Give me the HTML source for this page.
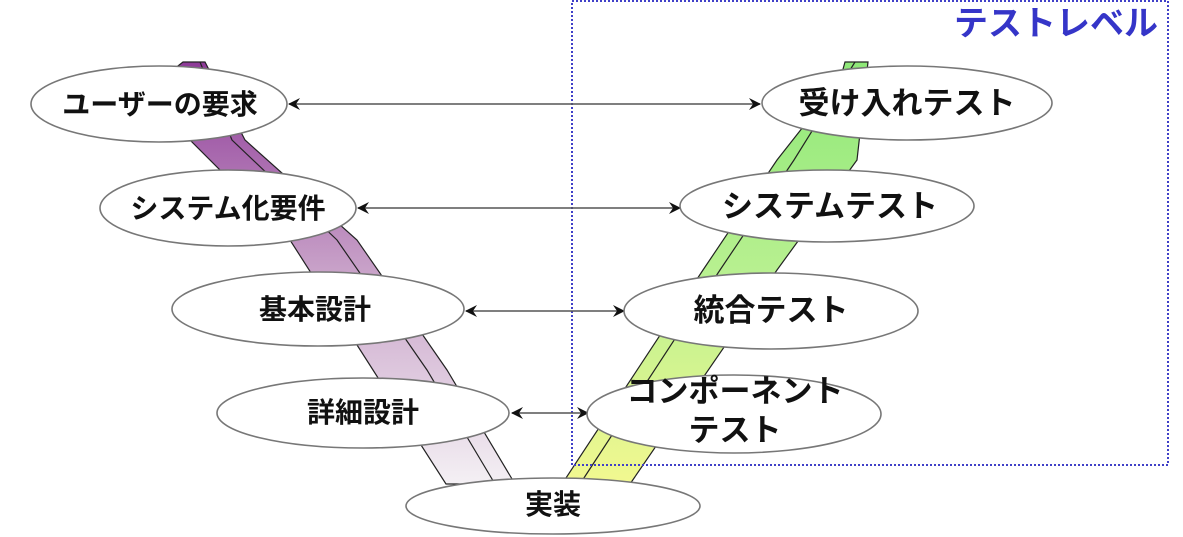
<!DOCTYPE html>
<html><head><meta charset="utf-8"><style>
html,body{margin:0;padding:0;background:#fff;width:1183px;height:537px;overflow:hidden}
text{font-family:"Liberation Sans","Noto Sans CJK JP",sans-serif;font-weight:bold}
</style></head><body>
<svg width="1183" height="537" viewBox="0 0 1183 537" xmlns="http://www.w3.org/2000/svg">
<defs>
<linearGradient id="pg" x1="0" y1="0" x2="0" y2="1">
<stop offset="0" stop-color="#8e3a98"/><stop offset="0.5" stop-color="#c9a3c9"/><stop offset="1" stop-color="#f4f0f4"/>
</linearGradient>
<linearGradient id="gg" x1="0" y1="0" x2="0" y2="1">
<stop offset="0" stop-color="#8ee878"/><stop offset="0.5" stop-color="#b8f090"/><stop offset="1" stop-color="#f2f890"/>
</linearGradient>
<marker id="ah" viewBox="0 0 12 12" refX="11" refY="6" markerWidth="12" markerHeight="12" orient="auto-start-reverse" markerUnits="userSpaceOnUse">
<path d="M0,0 L12,6 L0,12 L4,6 Z" fill="#111"/>
</marker>
</defs>
<polygon points="183,62 205,62 245,140 357,240 447,370 515,484 446,484 373,370 290,240 190,140 160,80" fill="url(#pg)" stroke="#222" stroke-width="1.2"/>
<polyline points="200,62 232,140 337,240 427,370 495,484" fill="none" stroke="#222" stroke-width="1.2"/>
<polygon points="845,62 868,62 857,160 777,270 630,484 562,484 703,270 777,160 840,80" fill="url(#gg)" stroke="#222" stroke-width="1.2"/>
<polyline points="855,62 794,160 720,270 580,484" fill="none" stroke="#222" stroke-width="1.2"/>
<rect x="572" y="1" width="596" height="464" fill="none" stroke="#4040c8" stroke-width="2" stroke-dasharray="2,2"/>
<text x="1158" y="35" font-size="34" fill="#3535c8" text-anchor="end">テストレベル</text>
<g stroke="#555" stroke-width="1.5" marker-start="url(#ah)" marker-end="url(#ah)">
<line x1="289" y1="104" x2="760" y2="104"/>
<line x1="358" y1="208" x2="680" y2="208"/>
<line x1="466" y1="311" x2="624" y2="311"/>
<line x1="512" y1="413" x2="588" y2="413"/>
</g>
<g fill="#fff" stroke="#777" stroke-width="1.6">
<ellipse cx="159" cy="104" rx="128" ry="38"/>
<ellipse cx="228" cy="208" rx="128" ry="38"/>
<ellipse cx="318" cy="309" rx="146" ry="37"/>
<ellipse cx="363" cy="413" rx="146" ry="35"/>
<ellipse cx="553" cy="506" rx="147" ry="28"/>
<ellipse cx="907" cy="103" rx="145" ry="37"/>
<ellipse cx="827" cy="206" rx="147" ry="36"/>
<ellipse cx="771" cy="311" rx="147" ry="38"/>
<ellipse cx="734" cy="414" rx="147" ry="39"/>
</g>
<g font-size="28" fill="#111" text-anchor="middle">
<text x="160" y="114">ユーザーの要求</text>
<text x="228" y="218">システム化要件</text>
<text x="315" y="319">基本設計</text>
<text x="363" y="422">詳細設計</text>
<text x="553" y="514">実装</text>
</g>
<g font-size="31" fill="#111" text-anchor="middle">
<text x="907" y="114">受け入れテスト</text>
<text x="830" y="217">システムテスト</text>
<text x="771" y="321">統合テスト</text>
<text x="735" y="402">コンポーネント</text>
<text x="735" y="441">テスト</text>
</g>
</svg>
</body></html>
